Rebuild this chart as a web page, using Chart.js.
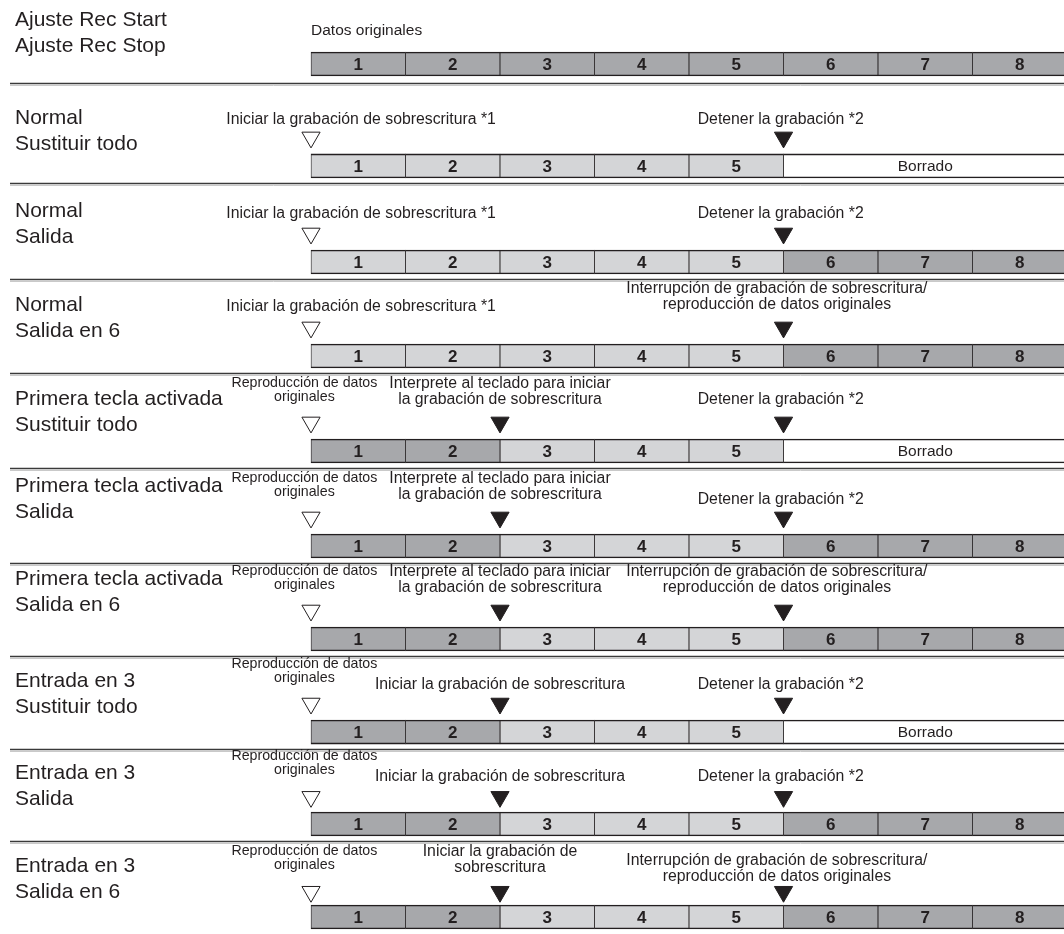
<!DOCTYPE html>
<html><head><meta charset="utf-8">
<script src="https://cdn.jsdelivr.net/npm/chart.js@4.4.1/dist/chart.umd.min.js"></script>
<style>html,body{margin:0;padding:0;background:#fff;overflow:hidden}</style>
</head><body>
<canvas id="c" width="1064" height="934"></canvas>
<script>
// ---------- data ----------
const rowTitles = [
  ['Ajuste Rec Start', 'Ajuste Rec Stop'],
  ['Normal', 'Sustituir todo'],
  ['Normal', 'Salida'],
  ['Normal', 'Salida en 6'],
  ['Primera tecla activada', 'Sustituir todo'],
  ['Primera tecla activada', 'Salida'],
  ['Primera tecla activada', 'Salida en 6'],
  ['Entrada en 3', 'Sustituir todo'],
  ['Entrada en 3', 'Salida'],
  ['Entrada en 3', 'Salida en 6']
];
const measures = ['1', '2', '3', '4', '5', '6', '7', '8'];
// O = datos originales, N = nueva grabación, E = borrado
const rowCells = [
  ['O','O','O','O','O','O','O','O'],
  ['N','N','N','N','N','E'],
  ['N','N','N','N','N','O','O','O'],
  ['N','N','N','N','N','O','O','O'],
  ['O','O','N','N','N','E'],
  ['O','O','N','N','N','O','O','O'],
  ['O','O','N','N','N','O','O','O'],
  ['O','O','N','N','N','E'],
  ['O','O','N','N','N','O','O','O'],
  ['O','O','N','N','N','O','O','O']
];
const erasedLabel = 'Borrado';
const openMarkers = [null, 0, 0, 0, 0, 0, 0, 0, 0, 0];
const keyMarkers  = [null, null, null, null, 2, 2, 2, 2, 2, 2];
const stopMarkers = [null, 5, 5, 5, 5, 5, 5, 5, 5, 5];

const TXT_ORIG  = ['Datos originales'];
const TXT_START = ['Iniciar la grabación de sobrescritura *1'];
const TXT_STOP  = ['Detener la grabación *2'];
const TXT_INT   = ['Interrupción de grabación de sobrescritura/', 'reproducción de datos originales'];
const TXT_REPRO = ['Reproducción de datos', 'originales'];
const TXT_KEY   = ['Interprete al teclado para iniciar', 'la grabación de sobrescritura'];
const TXT_ENTRY = ['Iniciar la grabación de sobrescritura'];
const TXT_ENTRY2 = ['Iniciar la grabación de', 'sobrescritura'];

// notes per row: [anchor (measure units), text lines, kind, vertical nudge px]
const rowNotes = [
  [[0, TXT_ORIG, 'orig', 0]],
  [[0.53, TXT_START, 'n', 3], [4.97, TXT_STOP, 'n', 3]],
  [[0.53, TXT_START, 'n', 1], [4.97, TXT_STOP, 'n', 1]],
  [[0.53, TXT_START, 'n', 0], [4.93, TXT_INT, 'n', 0]],
  [[-0.07, TXT_REPRO, 's', 0], [2, TXT_KEY, 'n', 0], [4.97, TXT_STOP, 'n', -2]],
  [[-0.07, TXT_REPRO, 's', 0], [2, TXT_KEY, 'n', 0], [4.97, TXT_STOP, 'n', 3]],
  [[-0.07, TXT_REPRO, 's', 0], [2, TXT_KEY, 'n', 0], [4.93, TXT_INT, 'n', 0]],
  [[-0.07, TXT_REPRO, 's', 0], [2, TXT_ENTRY, 'n', 2], [4.97, TXT_STOP, 'n', 2]],
  [[-0.07, TXT_REPRO, 's', 0], [2, TXT_ENTRY, 'n', 2], [4.97, TXT_STOP, 'n', 2]],
  [[-0.07, TXT_REPRO, 's', 2], [2, TXT_ENTRY2, 'n', 2], [4.93, TXT_INT, 'n', 11]]
];

// ---------- layout / style ----------
const ROW_POS = [-0.113, 0.976, 2.002, 3.006, 4.021, 5.036, 6.030, 7.024, 8.006, 9.0];
const TITLE_SHIFT = [0, 3, 0, 0, -1, -9, -9, 0, 0, 0];
const MARK_OFF = [0, 0.305, 0.305, 0.305, 0.305, 0.305, 0.305, 0.305, 0.29, 0.27];
const INK = '#231f20';
const FILL = { O: '#a7a8ab', N: '#d4d5d7', E: '#ffffff' };
const FONT = '"Liberation Sans", Arial, Helvetica, sans-serif';

const barSets = { O: [], N: [], E: [] };
rowCells.forEach((cells, r) => {
  let pos = 0;
  cells.forEach(c => {
    const end = c === 'E' ? measures.length : pos + 1;
    barSets[c].push({ x: [pos, end], y: ROW_POS[r], label: c === 'E' ? erasedLabel : measures[pos], bold: c !== 'E' });
    pos = end;
  });
});

function markerData(arr) {
  const out = [];
  arr.forEach((x, r) => { if (x !== null) out.push({ x: x, y: ROW_POS[r] - MARK_OFF[r] }); });
  return out;
}

const barDatasets = ['O', 'N', 'E'].map(k => ({
  type: 'bar',
  indexAxis: 'y',
  data: barSets[k],
  backgroundColor: FILL[k],
  borderColor: INK,
  borderWidth: { top: 1.6, bottom: 1.6, left: 0.8, right: 0.8 },
  borderSkipped: false,
  barThickness: 24,
  grouped: false
}));

const markerDatasets = [
  { type: 'scatter', data: markerData(openMarkers), pointStyle: 'triangle', rotation: 180,
    pointRadius: 10.5, backgroundColor: '#ffffff', borderColor: INK, borderWidth: 1 },
  { type: 'scatter', data: markerData(keyMarkers), pointStyle: 'triangle', rotation: 180,
    pointRadius: 10.5, backgroundColor: INK, borderColor: INK, borderWidth: 1 },
  { type: 'scatter', data: markerData(stopMarkers), pointStyle: 'triangle', rotation: 180,
    pointRadius: 10.5, backgroundColor: INK, borderColor: INK, borderWidth: 1 }
];

const diagramPlugin = {
  id: 'diagram',
  afterDatasetsDraw(chart) {
    const ctx = chart.ctx;
    const xs = chart.scales.x, ys = chart.scales.y;
    ctx.save();
    ctx.fillStyle = INK;
    ctx.textBaseline = 'middle';

    // cell labels
    [0, 1, 2].forEach(di => {
      const meta = chart.getDatasetMeta(di);
      meta.data.forEach((el, j) => {
        const d = chart.data.datasets[di].data[j];
        const cx = (el.x + el.base) / 2;
        ctx.font = (d.bold ? 'bold 17px ' : '15.5px ') + FONT;
        ctx.textAlign = 'center';
        ctx.fillText(d.label, cx, el.y + 1);
      });
    });

    // row titles, separators, notes
    rowTitles.forEach((lines, r) => {
      const bc = ys.getPixelForValue(ROW_POS[r]);
      ctx.font = '21px ' + FONT;
      ctx.textAlign = 'left';
      const t0 = (r === 0 ? bc - 44 : bc - 51) + TITLE_SHIFT[r];
      lines.forEach((ln, k) => ctx.fillText(ln, 15, t0 + k * 26));

      if (r < rowTitles.length - 1) {
        const sy = Math.round(bc + (r === 0 ? 19 : 17)) + 0.5;
        ctx.strokeStyle = '#3a3a3a';
        ctx.lineWidth = 1.5;
        ctx.beginPath(); ctx.moveTo(10, sy); ctx.lineTo(1064, sy); ctx.stroke();
        ctx.strokeStyle = '#c9c9c9';
        ctx.lineWidth = 1;
        ctx.beginPath(); ctx.moveTo(10, sy + 2); ctx.lineTo(1064, sy + 2); ctx.stroke();
      }

      rowNotes[r].forEach(([ax, txt, kind, dy]) => {
        const px = xs.getPixelForValue(ax);
        if (kind === 'orig') {
          ctx.font = '15.5px ' + FONT; ctx.textAlign = 'left';
          ctx.fillText(txt[0], px, bc - 33);
          return;
        }
        const small = kind === 's';
        ctx.font = (small ? '14.2px ' : '15.8px ') + FONT;
        ctx.textAlign = 'center';
        const lh = small ? 14 : 16;
        const lastY = (small ? bc - 54 : (txt.length > 1 ? bc - 51 : bc - 49)) + dy;
        txt.forEach((ln, k) => ctx.fillText(ln, px, lastY - (txt.length - 1 - k) * lh));
      });
    });
    ctx.restore();
  }
};

new Chart(document.getElementById('c'), {
  type: 'bar',
  data: { datasets: barDatasets.concat(markerDatasets) },
  options: {
    responsive: false,
    animation: false,
    devicePixelRatio: 1,
    layout: { padding: 0, autoPadding: false },
    plugins: { legend: { display: false }, tooltip: { enabled: false }, title: { display: false } },
    events: [],
    scales: {
      x: { type: 'linear', min: -3.291, max: 7.968, display: false, offset: false, grid: { display: false } },
      y: { type: 'linear', min: -0.797, max: 9.1816, reverse: true, display: false, offset: false, grid: { display: false } }
    }
  },
  plugins: [diagramPlugin]
});
</script>
</body></html>
